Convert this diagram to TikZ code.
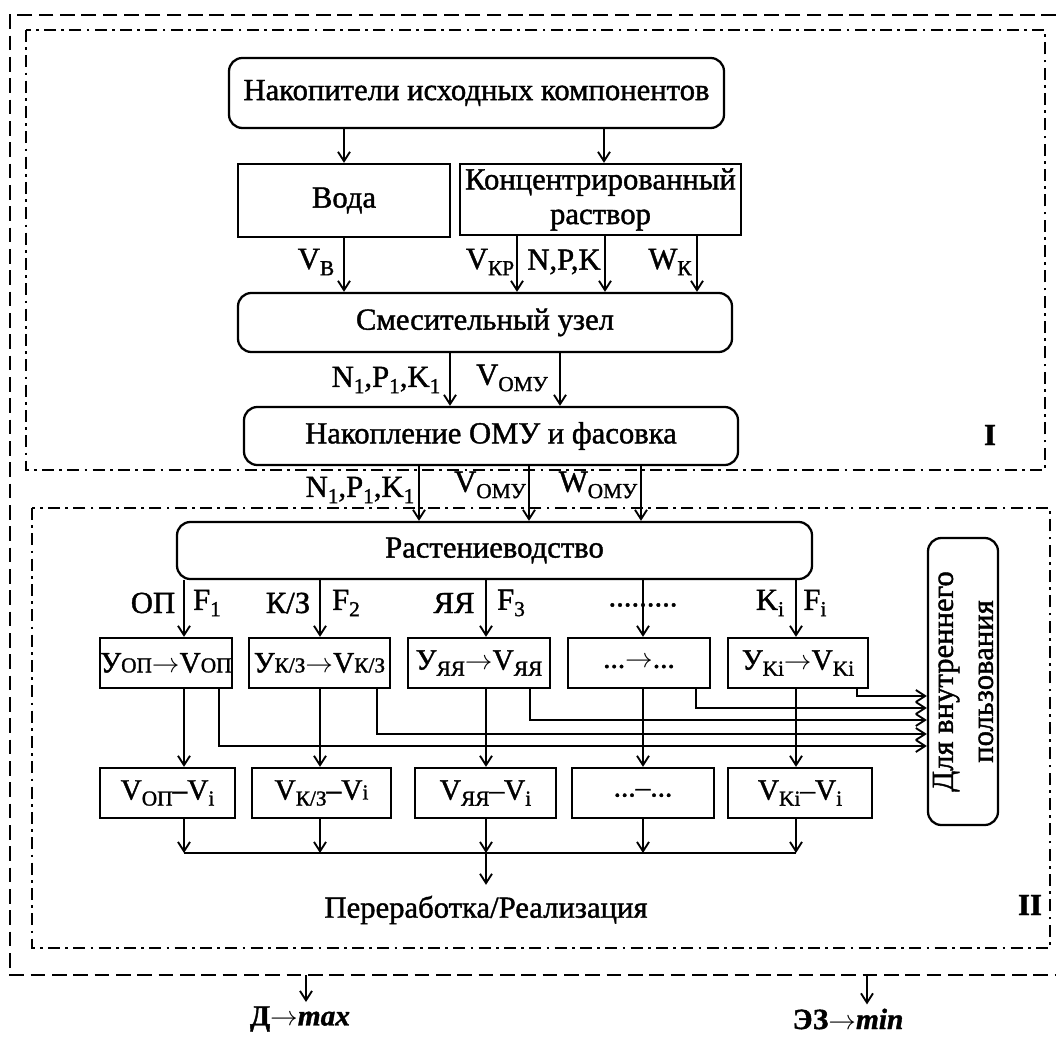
\documentclass[tikz,border=0pt]{standalone}
\usepackage{fontspec}
\setmainfont{Liberation Serif}[FakeBold=1.3]
\usetikzlibrary{arrows.meta}
\newcommand\lsub[1]{\raisebox{-0.45ex}{\fontsize{16}{17}\selectfont #1}}
\newcommand\ssub[1]{{\fontsize{16}{17}\selectfont #1}}
\begin{document}
\begin{tikzpicture}[x=0.75pt,y=-0.75pt,
  every node/.style={font=\fontsize{23}{28}\selectfont, inner sep=0pt},
  sz/.style 2 args={minimum width=#1*0.75pt, minimum height=#2*0.75pt},
  sqbox/.style={draw, line width=1.7pt},
  rbox/.style={draw, line width=1.7pt, rounded corners=10pt},
  rowt/.style={font=\fontsize{22}{26}\selectfont},
  arr/.style={line width=1.4pt, -{Straight Barb[length=7pt,width=9pt]}},
  ln/.style={line width=1.4pt},
  outerd/.style={line width=1.8pt, dash pattern=on 11pt off 5pt},
  secd/.style={line width=1.7pt, dash pattern=on 9pt off 4pt on 2pt off 4pt}]
\fill[white] (0,0) rectangle (1056,1037);
\useasboundingbox (0,0) rectangle (1056,1037);

% frames
\draw[outerd] (1056,15) -- (10,15) -- (10,975) -- (1056,975);
\draw[secd] (26,30) rectangle (1045,470);
\draw[secd] (32,508) rectangle (1050,948);
\node[font=\fontsize{23}{24}\selectfont\bfseries] (secI) at (990,435) {I};
\node[font=\fontsize{23}{24}\selectfont\bfseries] (secII) at (1030,905) {II};

% section I boxes
\node[rbox, sz={495}{70}] (src) at (476.5,93) {Накопители исходных компонентов};
\node[sqbox, sz={212}{73}] (voda) at (344,200.5) {Вода};
\node[sqbox, sz={281}{71}, align=center, font=\fontsize{23}{26}\selectfont] (conc) at (600.5,199.5) {Концентрированный\\раствор};
\node[rbox, sz={494}{59}] (mix) at (485,322.5) {Смесительный узел};
\node[rbox, sz={494}{58}] (acc) at (491,436) {Накопление ОМУ и фасовка};

% section II boxes
\node[rbox, sz={635}{57}] (crop) at (494.5,550.5) {Растениеводство};
\node[rbox, sz={70}{287}] (own) at (963,681.5) {};
\node[rotate=90, align=center, font=\fontsize{23}{30}\selectfont] (ownlbl) at (own.center) {Для внутреннего\\пользования};

\node[sqbox, sz={132}{50}, rowt] (ra) at (166,663) {У\ssub{ОП}$\rightarrow$V\ssub{ОП}};
\node[sqbox, sz={141}{50}, rowt] (rb) at (319.5,663) {У\ssub{К/З}$\rightarrow$V\ssub{К/З}};
\node[sqbox, sz={142}{50}, rowt] (rc) at (479,663) {У\lsub{ЯЯ}$\rightarrow$V\lsub{ЯЯ}};
\node[sqbox, sz={142}{50}, rowt] (rd) at (639,663) {...$\rightarrow$...};
\node[sqbox, sz={140}{50}, rowt] (re) at (798,663) {У\lsub{Ki}$\rightarrow$V\lsub{Ki}};

\node[sqbox, sz={135}{50}, rowt] (sa) at (167.5,793) {V\lsub{ОП}–V\lsub{i}};
\node[sqbox, sz={139}{50}, rowt] (sb) at (321.5,793) {V\lsub{К/З}–V\ssub{i}};
\node[sqbox, sz={141}{50}, rowt] (sc) at (485.5,793) {V\lsub{ЯЯ}–V\lsub{i}};
\node[sqbox, sz={142}{50}, rowt] (sd) at (643,793) {...–...};
\node[sqbox, sz={144}{50}, rowt] (se) at (800,793) {V\lsub{Ki}–V\lsub{i}};

\node (proc) at (486,910) {Переработка/Реализация};

% x positions
\coordinate (xb) at (604,0);
\coordinate (xkp) at (517,0);
\coordinate (xnpk) at (605,0);
\coordinate (xwk) at (697,0);
\coordinate (xm1) at (450,0);
\coordinate (xm2) at (560,0);
\coordinate (xa1) at (419,0);
\coordinate (xa2) at (529,0);
\coordinate (xa3) at (641,0);
\coordinate (c1) at (184,0);
\coordinate (c2) at (320,0);
\coordinate (c3) at (486,0);
\coordinate (c4) at (643,0);
\coordinate (c5) at (796,0);

% connectors section I
\draw[arr] (src.south -| voda.north) -- (voda.north);
\draw[arr] (src.south -| xb) -- (conc.north -| xb);
\draw[arr] (voda.south) -- (mix.north -| voda.south);
\draw[arr] (conc.south -| xkp) -- (mix.north -| xkp);
\draw[arr] (conc.south -| xnpk) -- (mix.north -| xnpk);
\draw[arr] (conc.south -| xwk) -- (mix.north -| xwk);
\draw[arr] (mix.south -| xm1) -- (acc.north -| xm1);
\draw[arr] (mix.south -| xm2) -- (acc.north -| xm2);
\draw[arr] (acc.south -| xa1) -- (crop.north -| xa1);
\draw[arr] (acc.south -| xa2) -- (crop.north -| xa2);
\draw[arr] (acc.south -| xa3) -- (crop.north -| xa3);

% labels section I
\node (lVB) at (316,262) {V\lsub{В}};
\node (lVKP) at (490,262) {V\lsub{КР}};
\node (lNPK) at (564,262) {N,P,K};
\node (lWK) at (670,262) {W\lsub{К}};
\node (lN1) at (386,380) {N\lsub{1},P\lsub{1},K\lsub{1}};
\node (lV1) at (512,378) {V\lsub{ОМУ}};
\node (lN2) at (360,490) {N\lsub{1},P\lsub{1},K\lsub{1}};
\node (lV2) at (490,485) {V\lsub{ОМУ}};
\node (lW2) at (598,485) {W\lsub{ОМУ}};

% crop to row 1
\draw[arr] (crop.south -| c1) -- (ra.north -| c1);
\draw[arr] (crop.south -| c2) -- (rb.north -| c2);
\draw[arr] (crop.south -| c3) -- (rc.north -| c3);
\draw[arr] (crop.south -| c4) -- (rd.north -| c4);
\draw[arr] (crop.south -| c5) -- (re.north -| c5);

\node (lOP) at (153,603) {ОП};
\node (lF1) at (207,603) {F\lsub{1}};
\node (lKZ) at (288,603) {К/З};
\node (lF2) at (346,603) {F\lsub{2}};
\node (lYY) at (454,603) {ЯЯ};
\node (lF3) at (511,603) {F\lsub{3}};
\node (ldots) at (643,605) {.........};
\node (lKi) at (770,603) {K\lsub{i}};
\node (lFi) at (815,603) {F\lsub{i}};

% row 1 to row 2
\draw[arr] (ra.south -| c1) -- (sa.north -| c1);
\draw[arr] (rb.south -| c2) -- (sb.north -| c2);
\draw[arr] (rc.south -| c3) -- (sc.north -| c3);
\draw[arr] (rd.south -| c4) -- (sd.north -| c4);
\draw[arr] (re.south -| c5) -- (se.north -| c5);

% side lines to internal use
\coordinate (k1) at (219,746);
\coordinate (k2) at (377,734);
\coordinate (k3) at (530,720);
\coordinate (k4) at (696,708);
\coordinate (k5) at (857,696);
\draw[arr] (ra.south -| k1) -- (k1) -- (own.west |- k1);
\draw[arr] (rb.south -| k2) -- (k2) -- (own.west |- k2);
\draw[arr] (rc.south -| k3) -- (k3) -- (own.west |- k3);
\draw[arr] (rd.south -| k4) -- (k4) -- (own.west |- k4);
\draw[arr] (re.south -| k5) -- (k5) -- (own.west |- k5);

% row 2 to bus
\coordinate (busL) at (184,853);
\coordinate (busR) at (796,853);
\draw[ln] (busL) -- (busR);
\draw[arr] (sa.south -| c1) -- (busL);
\draw[arr] (sb.south -| c2) -- (busL -| c2);
\draw[arr] (sc.south -| c3) -- (busL -| c3);
\draw[arr] (sd.south -| c4) -- (busL -| c4);
\draw[arr] (se.south -| c5) -- (busR);
\draw[arr] (busL -| c3) -- ([yshift=8pt]proc.north -| c3);

% outputs
\coordinate (dTop) at (306,975);
\coordinate (eTop) at (867,975);
\node[font=\fontsize{22}{24}\selectfont\bfseries] (dmax) at (300,1019) {Д$\rightarrow$\textit{max}};
\node[font=\fontsize{22}{24}\selectfont\bfseries] (emin) at (848,1019) {ЭЗ$\rightarrow$\textit{min}};
\draw[arr] (dTop) -- ([yshift=3pt]dmax.north -| dTop);
\draw[arr] (eTop) -- ([yshift=3pt]emin.north -| eTop);
\end{tikzpicture}
\end{document}
